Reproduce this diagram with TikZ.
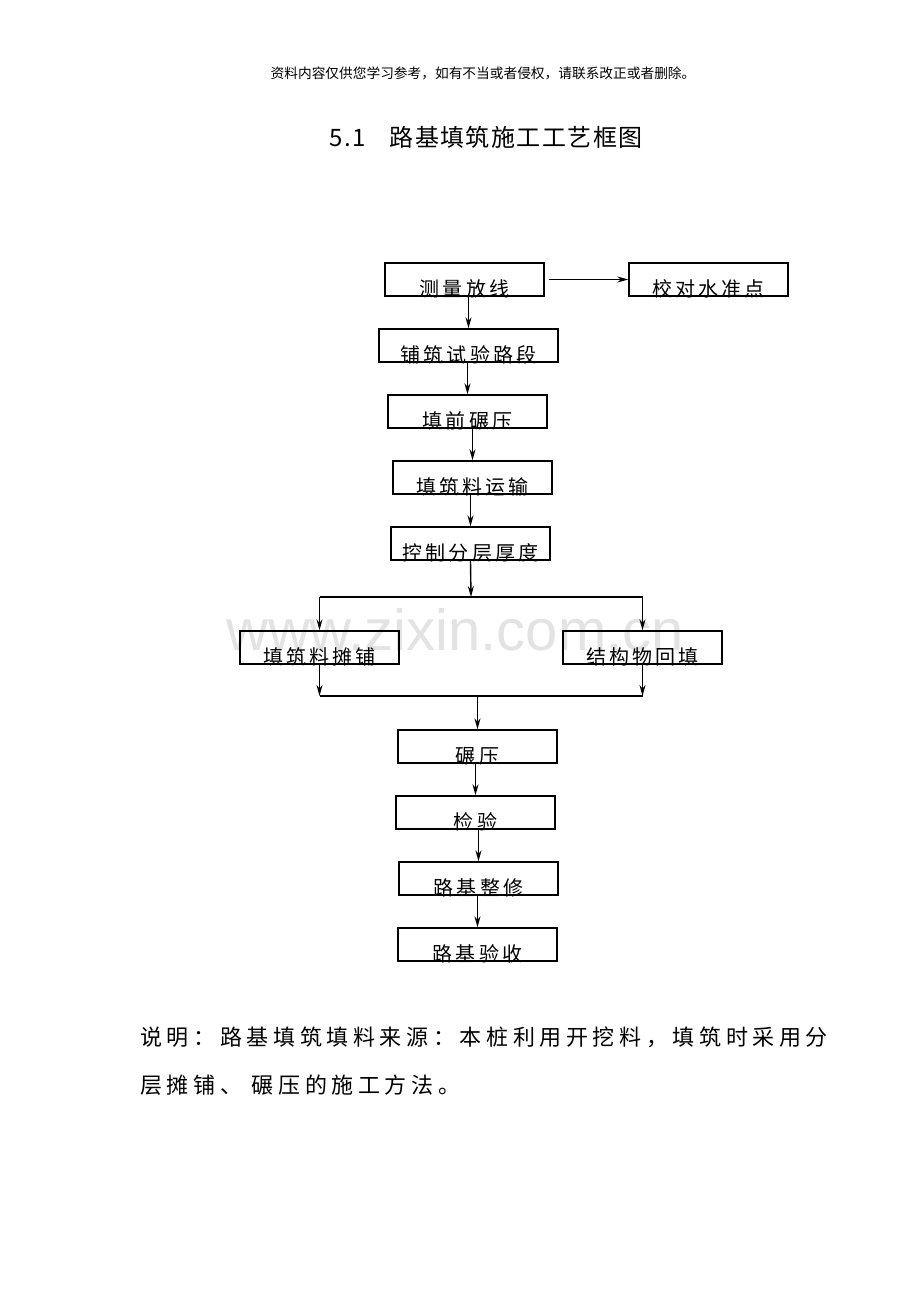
\documentclass[tikz,border=0pt]{standalone}
\usepackage{fontspec}
\setmainfont{Noto Sans CJK SC}
\newfontfamily\boxfont[LetterSpace=16]{Noto Sans CJK SC}
\newfontfamily\notefont[LetterSpace=21]{Noto Sans CJK SC}
\newfontfamily\titlefont[LetterSpace=6]{Noto Sans CJK SC}
\newfontfamily\markfont{Liberation Sans}
\usetikzlibrary{arrows.meta}

\tikzset{
  stage/.style={draw, line width=0.7pt, minimum width=79.5pt, inner xsep=2pt,
    inner ysep=0pt, text height=16.5pt, text depth=0pt,
    font=\boxfont\fontsize{10}{12}\selectfont},
  flow/.style={-{Stealth[length=5.5pt,width=3pt]}, line width=0.7pt},
  busline/.style={line width=0.7pt}
}

\begin{document}
\begin{tikzpicture}[x=0.5pt,y=-0.5pt]
\useasboundingbox (0,0) rectangle (920,1302);

\node[text=black!11, inner sep=0pt, anchor=base, font=\markfont\fontsize{29}{29}\selectfont] (mark) at (455,650) {www.zixin.com.cn};

\node[font=\fontsize{6.85}{8}\selectfont] (note) at (483,73) {资料内容仅供您学习参考，如有不当或者侵权，请联系改正或者删除。};
\node[font=\titlefont\fontsize{12}{14}\selectfont] (title) at (486,137) {5.1\hspace{12pt}路基填筑施工工艺框图};

\node[stage] (survey) at (464.5,279.5) {测量放线};
\node[stage] (benchmark) at (708.5,279.5) {校对水准点};
\node[stage, minimum width=89.5pt] (trial) at (468.5,345.5) {铺筑试验路段};
\node[stage] (preroll) at (467.5,411.5) {填前碾压};
\node[stage] (haul) at (472.5,477.5) {填筑料运输};
\node[stage] (layer) at (470.5,543.5) {控制分层厚度};
\node[stage] (spread) at (319.5,647.5) {填筑料摊铺};
\node[stage] (backfill) at (642.5,647.5) {结构物回填};
\node[stage] (roll) at (477.5,746.5) {碾压};
\node[stage] (check) at (475.5,812.5) {检验};
\node[stage] (trim) at (478.5,878.5) {路基整修};
\node[stage] (accept) at (477.5,944.5) {路基验收};

\draw[flow, shorten <=2pt] (survey) -- (benchmark);
\draw[flow] (trial.north |- survey.south) -- (trial.north);
\draw[flow] (preroll.north |- trial.south) -- (preroll.north);
\draw[flow] (haul.north |- preroll.south) -- (haul.north);
\draw[flow] (layer.north |- haul.south) -- (layer.north);

%split and merge
\coordinate (split) at (471,597);
\coordinate (merge) at (478,696);
\draw[flow] (layer.south) -- (split);
\draw[busline] (spread.north |- split) -- (backfill.north |- split);
\draw[flow] (spread.north |- split) -- (spread.north);
\draw[flow] (backfill.north |- split) -- (backfill.north);
\draw[flow] (spread.south) -- (spread.south |- merge);
\draw[flow] (backfill.south) -- (backfill.south |- merge);
\draw[busline] (spread.south |- merge) -- (backfill.south |- merge);
\draw[flow] (roll.north |- merge) -- (roll.north);

\draw[flow] (check.north |- roll.south) -- (check.north);
\draw[flow] (trim.north |- check.south) -- (trim.north);
\draw[flow] (accept.north |- trim.south) -- (accept.north);

\node[inner sep=0pt, anchor=west, font=\notefont\fontsize{11}{13}\selectfont] (remark1) at (140,1037) {说明：路基填筑填料来源：本桩利用开挖料，填筑时采用分};
\node[inner sep=0pt, anchor=west, font=\notefont\fontsize{11}{13}\selectfont] (remark2) at (140,1085) {层摊铺、 碾压的施工方法。};

\end{tikzpicture}
\end{document}
